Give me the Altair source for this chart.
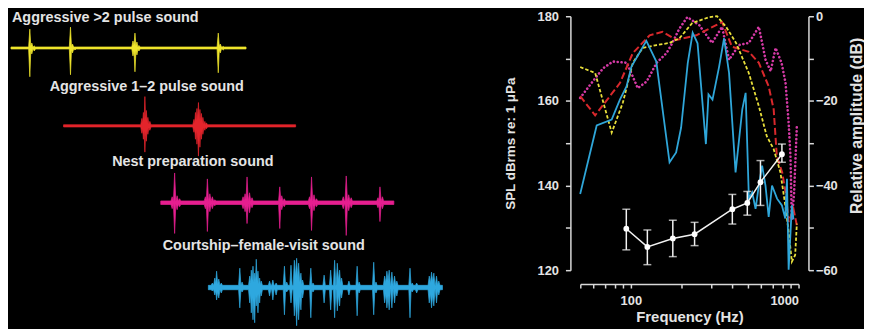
import altair as alt
import pandas as pd

# ---------------- Right panel: spectra ----------------
# Frequency (Hz) and SPL (dB rms re 1 uPa)
nest_f = [49.9, 57.2, 68.3, 78.2, 94.7, 110, 124.4, 142.5, 163.4, 177, 194.9, 217.3, 255.9, 305, 350,
          385.2, 441.5, 505.8, 580, 636, 682, 730, 792, 837, 873, 895, 912, 940, 977]
nest_v = [160.7, 163.8, 167.7, 169.3, 169, 163, 164.6, 169, 171.3, 173.7, 177.1, 179.8, 177.9, 173.7, 177.5,
          169.7, 173.2, 173.7, 177.5, 169.7, 167, 172.5, 169, 164.2, 154.9, 147, 132, 138, 154]

agg12_f = [49.9, 61.3, 86.1, 102.8, 129.5, 154.7, 187.2, 245.7, 322.6, 350, 401, 505, 580, 664, 711,
           742, 800, 840, 873, 933, 977]
agg12_v = [161.1, 156.6, 164.2, 171.3, 175.5, 176.3, 174.4, 175.5, 177.9, 178.6, 172.8, 171.6, 169, 163.4, 158,
           147, 143, 138, 131.4, 134.5, 130.6]

agg2_f = [49.9, 61.3, 76.9, 89.7, 102.8, 117.8, 142.5, 170.2, 194.9, 232.6, 293.4, 326.7, 370, 424, 505,
          580, 646, 711, 779.8, 833.7, 873, 912.5, 955, 977]
agg2_v = [168, 166.6, 152.5, 159.6, 169, 172.5, 173.2, 173.7, 174.8, 178.4, 179.8, 180, 177.5, 173.7, 166.6,
          158.75, 151.7, 148.6, 143.1, 135.3, 129.1, 122, 123.6, 131]

court_f = [49.9, 62.6, 76.9, 86.1, 94.3, 100.9, 123.8, 141.9, 170.2, 186.3, 199.5, 218.5, 233.8, 250, 280.3,
           290.5, 306.9, 336.2, 359.8, 385.2, 421.3, 462, 483.7, 505.8, 529.2, 554.4, 579.6, 606.7, 635.3,
           663.7, 695, 744.7, 796.2, 833.7, 853, 873, 912.5, 933.3]
court_v = [138, 154.2, 155.6, 160.3, 163.4, 168.1, 174.2, 169.3, 145.5, 147.8, 153.7, 168.9, 176.1, 173.6, 149.8,
           161.5, 160.3, 168.1, 174.8, 166.6, 143.1, 158, 161.9, 136.9, 138.4, 134.5, 140, 144.7, 140,
           132.6, 140, 136.9, 135.3, 132.2, 141.6, 120.1, 135.3, 132]

# Hearing thresholds (mean +/- error)
thr_f = [94, 125.5, 178, 240, 403, 495, 593, 796]
thr_v = [129.8, 125.5, 127.5, 128.5, 134.4, 135.9, 140.8, 147.4]
thr_lo = [124.8, 121.3, 123.2, 125.8, 130.9, 133.0, 135.3, 145.5]
thr_hi = [134.4, 129.5, 131.8, 131.3, 137.9, 138.6, 145.9, 149.8]

rel_amp = [-60, 0]

x_ticks = [50, 60, 70, 80, 90, 100, 200, 300, 400, 500, 600, 700, 800, 900, 1000]
y_ticks = [120, 130, 140, 150, 160, 170, 180]
rel_ticks = [-60, -50, -40, -30, -20, -10, 0]

# ---------------- Left panel: waveforms ----------------
# baseline (row position), start, end of each trace; peaks: x, top, bottom
yellow_row, yellow_span = 48, [11, 248]
yellow_px = [30, 32, 34.5, 71, 73, 75.5, 134, 136, 138, 140, 220, 222, 225]
yellow_top = [29, 43, 46, 27, 44, 47, 41, 33, 42, 45.5, 33, 44, 46.5]
yellow_bot = [77, 54, 51, 75, 53, 50, 56, 72, 55, 51, 73, 53, 50]

red_row, red_span = 126.5, [64, 298]
red_px = [143, 144.5, 146, 147.5, 149, 151, 195.5, 197, 198.5, 200, 201.5, 203, 204.5, 206.5, 208]
red_top = [119, 113, 97, 111, 118, 122, 120, 113, 109, 103, 110, 114, 118, 122, 123.5]
red_bot = [134, 140, 153, 142, 135, 131, 133, 140, 145, 157, 148, 140, 135, 131, 129.5]

pink_row, pink_span = 204, [162, 397]
pink_px = [173.5, 176, 178.5, 181, 207, 209, 211.5, 214, 216.5, 245, 247, 249, 251.5, 254,
           282, 284, 286.5, 312, 314, 316.5, 319, 346, 349, 351.5, 354, 381, 383, 385.5]
pink_top = [198, 174, 197, 200, 198, 180, 195, 198, 201, 198, 195, 178, 194, 199,
            188, 197, 200, 198, 178, 196, 200, 198, 177, 196, 199, 199, 188, 198]
pink_bot = [210, 235, 211, 208, 210, 233, 213, 210, 207, 210, 213, 225, 214, 209,
            230, 211, 208, 210, 232, 212, 208, 210, 237, 212, 209, 209, 223, 210]

blue_row, blue_span = 289.5, [210, 446]
blue_px = [214, 216.5, 218.3, 220.5, 223, 241.7, 244, 251.7, 253.3, 255, 256.7, 258.3, 260, 261.7, 263.3,
           271.7, 275, 278.3, 286.7, 289, 293.3, 296.7, 299, 301, 303.3, 305, 313.3, 315.5, 326.7,
           333.3, 337.3, 340, 342.3, 344.3, 351.7, 360, 362, 376.7, 379, 387.7, 390, 392.3, 395,
           397.7, 400, 413.3, 415.5, 420, 432.7, 435, 437.3, 440, 442.3]
blue_top = [285, 280, 273, 281, 285, 270, 284, 278, 272, 268, 275, 261, 273, 280, 283,
            283, 282, 285, 268, 284, 267, 262, 260, 265, 275, 282, 270, 285, 277,
            272, 262, 265, 272, 280, 283, 268, 284, 264, 284, 278, 273, 272, 274,
            278, 283, 270, 285, 285, 278, 274, 275, 278, 283]
blue_bot = [293, 297, 302, 300, 295, 310, 294, 305, 315, 322, 325, 308, 315, 305, 298,
            298, 302, 297, 317, 294, 305, 318, 328, 322, 312, 300, 320, 294, 305,
            312, 320, 313, 308, 300, 297, 318, 295, 317, 295, 305, 310, 312, 310,
            305, 298, 320, 294, 295, 305, 310, 308, 305, 297]

labels = ["Aggressive >2 pulse sound", "Aggressive 1\u20132 pulse sound",
          "Nest preparation sound", "Courtship\u2013female-visit sound"]
label_x = [12, 50, 113, 164]
label_y = [17.5, 87, 163, 248]

FONT = "Liberation Sans"
TXT = "#e4e4e4"


def envelope(span, row, noise, px, top, bot):
    """Trace outline: thin noisy baseline, spikes at the listed peaks; close peaks form a burst
    (a shallow notch is left between neighbouring oscillation peaks)."""
    rows = []

    def add(x, t, b):
        rows.append({"x": x, "top": t, "bot": b})

    add(span[0], row - noise, row + noise)
    prev = None
    for x, t, b in sorted(zip(px, top, bot)):
        if prev is None or x - prev[0] > 2.4:
            if prev is not None:
                add(prev[0] + 1.2, row - noise, row + noise)
            add(x - 1.2, row - noise, row + noise)
        else:
            up = max(noise, 0.4 * min(row - t, row - prev[1]))
            dn = max(noise, 0.4 * min(b - row, prev[2] - row))
            add((x + prev[0]) / 2, row - up, row + dn)
        add(x, t, b)
        prev = (x, t, b)
    add(prev[0] + 1.2, row - noise, row + noise)
    add(span[1], row - noise, row + noise)
    return pd.DataFrame(rows)


lx = alt.Scale(domain=[8, 468], nice=False, zero=False)
ly = alt.Scale(domain=[16, 330], nice=False, zero=False, reverse=True)


def wave(df, color):
    return alt.Chart(df).mark_area(color=color, stroke=color, strokeWidth=0.7,
                                   interpolate="linear", opacity=1).encode(
        x=alt.X("x:Q", scale=lx, axis=None),
        y=alt.Y("top:Q", scale=ly, axis=None, stack=None),
        y2="bot:Q",
    )


w1 = wave(envelope(yellow_span, yellow_row, 1.0, yellow_px, yellow_top, yellow_bot), "#efe52c")
w2 = wave(envelope(red_span, red_row, 1.1, red_px, red_top, red_bot), "#e3242b")
w3 = wave(envelope(pink_span, pink_row, 1.8, pink_px, pink_top, pink_bot), "#e61e8f")
w4 = wave(envelope(blue_span, blue_row, 2.2, blue_px, blue_top, blue_bot), "#2ea8df")

lab_df = pd.DataFrame({"label": labels, "x": label_x, "y": label_y})
text_layer = alt.Chart(lab_df).mark_text(
    align="left", baseline="middle", font=FONT, fontWeight="bold", fontSize=14.5, color=TXT
).encode(
    x=alt.X("x:Q", scale=lx, axis=None),
    y=alt.Y("y:Q", scale=ly, axis=None),
    text="label:N",
)
left = alt.layer(w1, w2, w3, w4, text_layer).properties(width=460, height=314)

# ---------------- Right panel construction ----------------
def series(fs, vs):
    return pd.DataFrame({"f": fs, "v": vs})


xscale = alt.Scale(type="log", domain=[50, 1000], nice=False)
xaxis = alt.Axis(values=x_ticks, format="d", offset=14, tickSize=4, labelPadding=7,
                 labelExpr="(datum.value == 100 || datum.value == 1000) ? datum.label : ''",
                 title="Frequency (Hz)", titlePadding=2, titleFontSize=15, labelOverlap=False)
yscale = alt.Scale(domain=[120, 180], nice=False, zero=False)
yaxis = alt.Axis(values=y_ticks, offset=10, tickSize=5, labelPadding=7,
                 labelExpr="datum.value % 20 == 0 ? datum.label : ''",
                 title="SPL dBrms re: 1 \u03bcPa", titlePadding=20, titleFontSize=13.5)


def X():
    return alt.X("f:Q", scale=xscale, axis=xaxis)


def Y(field):
    return alt.Y(f"{field}:Q", scale=yscale, axis=yaxis)


pink_l = alt.Chart(series(nest_f, nest_v)).mark_line(
    color="#d63aa6", strokeWidth=2.6, strokeDash=[0.1, 3.8], strokeCap="round").encode(x=X(), y=Y("v"))
red_l = alt.Chart(series(agg12_f, agg12_v)).mark_line(
    color="#d9282c", strokeWidth=2, strokeDash=[7, 3]).encode(x=X(), y=Y("v"))
yel_l = alt.Chart(series(agg2_f, agg2_v)).mark_line(
    color="#e8df3a", strokeWidth=1.8, strokeDash=[3.5, 2]).encode(x=X(), y=Y("v"))
blue_l = alt.Chart(series(court_f, court_v)).mark_line(
    color="#2fa6d9", strokeWidth=1.8).encode(x=X(), y=Y("v"))

thr = pd.DataFrame({"f": thr_f, "v": thr_v, "lo": thr_lo, "hi": thr_hi})
err = alt.Chart(thr).mark_rule(color="#f2f2f2", strokeWidth=1.5).encode(x=X(), y=Y("lo"), y2="hi:Q")
cap_lo = alt.Chart(thr).mark_tick(color="#f2f2f2", thickness=1.5, size=8, orient="horizontal").encode(
    x=X(), y=Y("lo"))
cap_hi = alt.Chart(thr).mark_tick(color="#f2f2f2", thickness=1.5, size=8, orient="horizontal").encode(
    x=X(), y=Y("hi"))
thr_line = alt.Chart(thr).mark_line(
    color="#f2f2f2", strokeWidth=1.5,
    point=alt.OverlayMarkDef(filled=True, color="#ffffff", size=34, opacity=1)).encode(x=X(), y=Y("v"))

main = alt.layer(pink_l, red_l, yel_l, blue_l, err, cap_lo, cap_hi, thr_line)

rel = alt.Chart(pd.DataFrame({"rel": rel_amp})).mark_point(opacity=0).encode(
    y=alt.Y("rel:Q", scale=alt.Scale(domain=[-60, 0], nice=False, zero=False),
            axis=alt.Axis(orient="right", values=rel_ticks, offset=10, tickSize=5, labelPadding=2,
                          labelExpr="datum.value % 20 == 0 ? datum.label : ''",
                          title="Relative amplitude (dB)", titleFontSize=16,
                          titleAngle=270, titleBaseline="top", titleX=40, titleY=110)))

right = alt.layer(main, rel).resolve_scale(y="independent").properties(width=220, height=256)

chart = alt.hconcat(left, right, spacing=39).properties(
    background="black", padding=0
).configure_view(stroke=None).configure_axis(
    grid=False, domainColor="#d8d8d8", tickColor="#d8d8d8", domainWidth=1.5, tickWidth=1.5,
    labelColor=TXT, titleColor=TXT, labelFont=FONT, titleFont=FONT,
    labelFontWeight="bold", titleFontWeight="bold", labelFontSize=13
)

chart.save("out.html", embed_options={"renderer": "svg", "actions": False})
